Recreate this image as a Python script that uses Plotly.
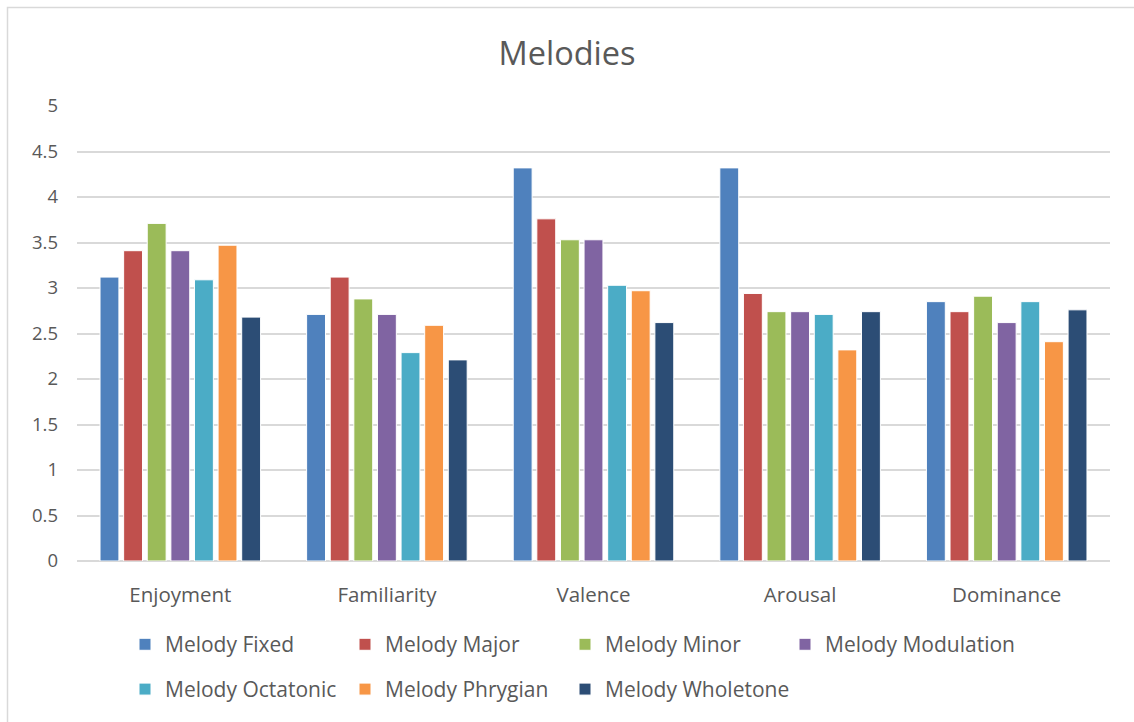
import plotly.graph_objects as go

categories = ["Enjoyment", "Familiarity", "Valence", "Arousal", "Dominance"]

melody_fixed = [3.12, 2.71, 4.32, 4.32, 2.85]
melody_major = [3.41, 3.12, 3.76, 2.94, 2.74]
melody_minor = [3.71, 2.88, 3.53, 2.74, 2.91]
melody_modulation = [3.41, 2.71, 3.53, 2.74, 2.62]
melody_octatonic = [3.09, 2.29, 3.03, 2.71, 2.85]
melody_phrygian = [3.47, 2.59, 2.97, 2.32, 2.41]
melody_wholetone = [2.68, 2.21, 2.62, 2.74, 2.76]

series = [
    ("Melody Fixed", melody_fixed, "#4F81BD"),
    ("Melody Major", melody_major, "#C0504D"),
    ("Melody Minor", melody_minor, "#9BBB59"),
    ("Melody Modulation", melody_modulation, "#8064A2"),
    ("Melody Octatonic", melody_octatonic, "#4BACC6"),
    ("Melody Phrygian", melody_phrygian, "#F79646"),
    ("Melody Wholetone", melody_wholetone, "#2C4D75"),
]

FONT = "Open Sans"
TEXT = "#595959"

# plot area geometry in pixels
W, H = 1134, 722
L, R, T, B = 77, 24, 106, 159
pw, ph = W - L - R, H - T - B

def px_x(p):
    return (p - L) / pw

def px_y(p):
    return (H - B - p) / ph

fig = go.Figure()
legends = {}
for i, (name, vals, color) in enumerate(series):
    key = "legend" if i == 0 else f"legend{i + 1}"
    fig.add_trace(go.Bar(
        x=categories, y=vals, name=name, legend=key, showlegend=True,
        marker=dict(color=color, line=dict(color="white", width=1)),
    ))
    # legend entries laid out in rows of four, 220 px apart
    row, col = divmod(i, 4)
    legends[key] = dict(
        x=px_x(125 + col * 220), y=px_y(647 + row * 45),
        xanchor="left", yanchor="middle", orientation="h",
        font=dict(family=FONT, size=21, color=TEXT), itemwidth=30,
        bgcolor="rgba(0,0,0,0)",
    )

fig.update_layout(
    width=W, height=H, showlegend=True,
    margin=dict(l=L, r=R, t=T, b=B),
    paper_bgcolor="white", plot_bgcolor="white",
    barmode="group", bargap=0.2, bargroupgap=0.2,
    title=dict(text="Melodies", x=0.5, xanchor="center", y=1 - 54 / H, yanchor="middle",
               font=dict(family=FONT, size=32.5, color=TEXT)),
    font=dict(family=FONT, color=TEXT),
    xaxis=dict(showgrid=False, showline=False, ticks="", ticklabelstandoff=19,
               tickfont=dict(family=FONT, size=20.5, color=TEXT)),
    yaxis=dict(range=[0, 5], dtick=0.5, showgrid=True, gridcolor="#D9D9D9", gridwidth=1.5,
               zeroline=True, zerolinecolor="#D9D9D9", zerolinewidth=1.5,
               showline=False, ticks="", ticklabelstandoff=18,
               tickfont=dict(family=FONT, size=18.5, color=TEXT)),
    shapes=[dict(type="rect", xref="paper", yref="paper",
                 x0=px_x(7.5), x1=px_x(1140), y0=px_y(740), y1=px_y(7),
                 line=dict(color="#D9D9D9", width=1.5), fillcolor="rgba(0,0,0,0)", layer="below")],
    **legends,
)

fig.write_html("out.html")
